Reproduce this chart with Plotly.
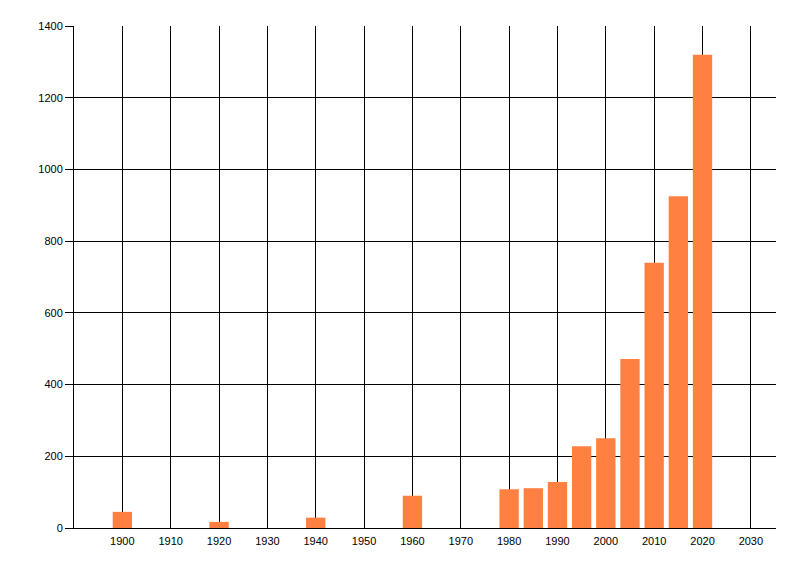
import plotly.graph_objs as go

years = [1900, 1920, 1940, 1960, 1980, 1985, 1990, 1995, 2000, 2005, 2010, 2015, 2020]
counts = [45, 17, 29, 90, 108, 111, 128, 228, 250, 471, 740, 925, 1320]
x_ticks = list(range(1900, 2031, 10))
y_ticks = list(range(0, 1401, 200))

fig = go.Figure()
fig.add_trace(go.Bar(x=years, y=counts, width=4, marker_color='#FF8040',
                     marker_line_width=0))

# page body adds 8px, so margins are shifted to land the plot area in place
fig.update_layout(
    width=800, height=576,
    margin=dict(l=66, r=32, t=18, b=56),
    plot_bgcolor='white', paper_bgcolor='white',
    font=dict(family='Liberation Sans', size=11, color='black'),
    showlegend=False,
)
fig.update_xaxes(range=[1890, 2035.2], tickvals=x_ticks, ticks='',
                 showgrid=True, gridcolor='black', gridwidth=1,
                 showline=True, linecolor='black', linewidth=1,
                 zeroline=False, ticklabelstandoff=3)
fig.update_yaxes(range=[0, 1400], tickvals=y_ticks, ticks='outside',
                 ticklen=8, tickcolor='black', tickwidth=1,
                 showgrid=True, gridcolor='black', gridwidth=1,
                 showline=True, linecolor='black', linewidth=1,
                 zeroline=False)

fig.write_html("out.html")
